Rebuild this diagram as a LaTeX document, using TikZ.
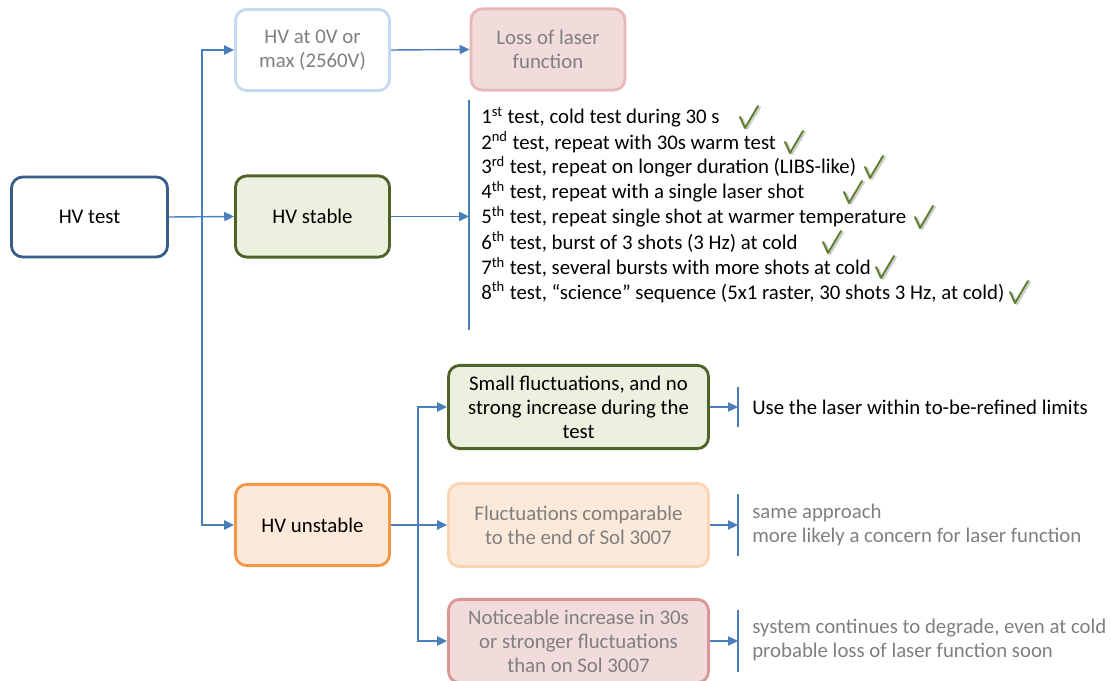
\documentclass[tikz,border=0pt]{standalone}
\usepackage{fontspec}
\setmainfont{Carlito}
\usepackage{xcolor}
\usetikzlibrary{arrows.meta}

\definecolor{lineblue}{HTML}{4A7EBB}
\definecolor{testblue}{HTML}{385D8A}
\definecolor{paleblue}{HTML}{C6D9F1}
\definecolor{okgreen}{HTML}{4F6228}
\definecolor{okfill}{HTML}{EBF1DE}
\definecolor{warnorange}{HTML}{F79646}
\definecolor{warnfill}{HTML}{FDE9D9}
\definecolor{paleorange}{HTML}{FBD4B4}
\definecolor{badfill}{HTML}{F2DCDB}
\definecolor{badred}{HTML}{D99694}
\definecolor{palered}{HTML}{E6B9B8}
\definecolor{txtgrey}{HTML}{7F7F7F}
\definecolor{tickgreen}{HTML}{5F7F2F}

\begin{document}
\begin{tikzpicture}[x=0.025cm,y=-0.025cm,
    font=\fontsize{14.8}{17}\selectfont,
    box/.style={draw,rounded corners=8pt,line width=2pt,align=center,inner sep=2pt},
    smallbox/.style={box,minimum width=3.85cm,minimum height=2.03cm},
    widebox/.style={box,minimum width=6.5cm,minimum height=2.08cm},
    arr/.style={-{Triangle[length=7pt,width=6.5pt]},line width=1pt,draw=lineblue},
    bar/.style={line width=0.8pt,draw=lineblue},
    tick/.style={line width=1.4pt,draw=tickgreen,line cap=round,line join=round}]
    \clip (0,0) rectangle (1111,681);

    % First level
    \node[smallbox,draw=testblue,minimum width=3.9cm,minimum height=2.0cm] (test) at (89.5,217) {HV test};
    \node[smallbox,draw=paleblue,text=txtgrey] (zero) at (312.5,50) {HV at 0V or\\max (2560V)};
    \node[smallbox,draw=palered,fill=badfill,text=txtgrey] (loss) at (548,49.5) {Loss of laser\\function};
    \node[smallbox,draw=okgreen,fill=okfill] (stable) at (312.5,216.5) {HV stable};
    \node[smallbox,draw=warnorange,fill=warnfill] (unstable) at (312.5,525) {HV unstable};

    % Second level (unstable)
    \node[widebox,draw=okgreen,fill=okfill] (small) at (578.5,407) {Small fluctuations, and no\\strong increase during the\\test};
    \node[widebox,draw=paleorange,fill=warnfill,text=txtgrey] (fluct) at (578.5,525) {Fluctuations comparable\\to the end of Sol 3007};
    \node[widebox,draw=badred,fill=badfill,text=txtgrey] (notice) at (578.5,641) {Noticeable increase in 30s\\or stronger fluctuations\\than on Sol 3007};

    % Outcomes
    \node[anchor=west,inner sep=0pt] (use) at (752,407) {Use the laser within to-be-refined limits};
    \node[anchor=west,inner sep=0pt,align=left,text=txtgrey] (same) at (752,525) {same approach\\more likely a concern for laser function};
    \node[anchor=west,inner sep=0pt,align=left,text=txtgrey] (degr) at (752,640) {system continues to degrade, even at cold\\probable loss of laser function soon};

    % Test list with ticks
    \foreach \n/\txt/\cx in {
        1/{1\textsuperscript{st} test, cold test during 30 s}/740,
        2/{2\textsuperscript{nd} test, repeat with 30s warm test}/785,
        3/{3\textsuperscript{rd} test, repeat on longer duration (LIBS-like)}/865,
        4/{4\textsuperscript{th} test, repeat with a single laser shot}/844,
        5/{5\textsuperscript{th} test, repeat single shot at warmer temperature}/915,
        6/{6\textsuperscript{th} test, burst of 3 shots (3 Hz) at cold}/823,
        7/{7\textsuperscript{th} test, several bursts with more shots at cold}/876,
        8/{8\textsuperscript{th} test, “science” sequence (5x1 raster, 30 shots 3 Hz, at cold)}/1010}
    {
        \node[anchor=west,inner sep=0pt] (l\n) at (481,92+25*\n) {\txt};
        \draw[tick,draw=black!20] (\cx+2,93+25*\n) -- ++(5,11) -- ++(13,-22);
        \draw[tick] (\cx,92+25*\n) -- ++(5,11) -- ++(13,-22);
    }

    % Connectors
    \coordinate (jA) at (202,216.5);
    \coordinate (jB) at (418,525);
    \coordinate (listtop) at (469,100);
    \coordinate (listbot) at (469,330);
    \draw[arr] (test.east) -- (stable.west);
    \draw[arr] (jA) |- (zero.west);
    \draw[arr] (jA) |- (unstable.west);
    \draw[arr] (zero.east) -- (loss.west);
    \draw[arr] (stable.east) -- (stable.east -| listtop);
    \draw[bar] (listtop) -- (listbot);
    \draw[arr] (unstable.east) -- (fluct.west);
    \draw[arr] (jB) |- (small.west);
    \draw[arr] (jB) |- (notice.west);

    % Outcome bars
    \foreach \b/\h in {small/20,fluct/31,notice/31} {
        \coordinate (\b end) at ([xshift=0.7cm]\b.east);
        \draw[arr] (\b.east) -- (\b end);
        \draw[bar] ([yshift=\h*0.025cm]\b end) -- ([yshift=-\h*0.025cm]\b end);
    }
\end{tikzpicture}
\end{document}
